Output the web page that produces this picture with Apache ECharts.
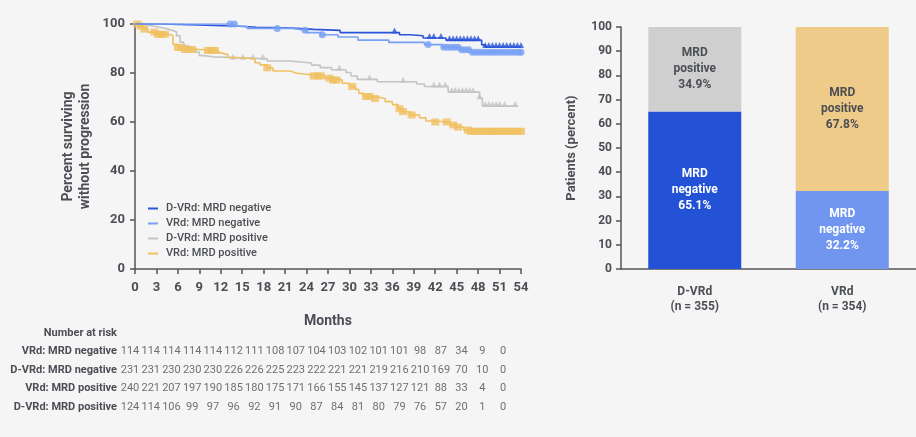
<!DOCTYPE html>
<html>
<head>
<meta charset="utf-8">
<script src="https://cdn.jsdelivr.net/npm/echarts@6/dist/echarts.min.js"></script>
<style>
html,body{margin:0;padding:0;background:#f5f5f5;}
#main{width:916px;height:437px;}
</style>
</head>
<body>
<div id="main"></div>
<script>
// KM step points [month, percent surviving]
const dvrdNeg = [[0,100],[3.7,99.6],[9,99.1],[14.5,98.7],[17,98.3],[22,97.8],[25,97.4],[28.7,96.5],[37,95.6],[38.5,95.2],[40.3,94.3],[43.5,93.4],[48.5,91.5],[49,90.6],[54,90.6]];
const vrdNeg = [[0,100],[14,99.1],[15.7,98.2],[22,97.4],[24,96.5],[26,95.6],[28.4,94.7],[31.2,93.4],[35.5,92.5],[40.5,91.6],[43,90.5],[45.5,89.5],[47,88.5],[54,88.5]];
const dvrdPos = [[0,100],[1,99.2],[2.5,98.4],[4,97.6],[5,96.8],[5.8,95.2],[6.3,92.6],[6.8,91],[7.6,89.5],[8.5,88.6],[9,87.1],[9.5,86.6],[11,85.8],[18.5,84.9],[21.7,84.1],[24.7,83.2],[25.9,82.2],[27.5,81.3],[29.5,80.2],[30.2,78.8],[31.1,77.4],[33.9,76.4],[39.4,75.5],[40.5,74.5],[43.8,72.2],[48.2,69.7],[48.6,66.5],[53.5,66.5]];
const vrdPos = [[0,100],[0.5,99.2],[1.2,97.9],[1.8,96.7],[3,95.8],[4.5,95.4],[5.3,91.7],[6,90.4],[7,89.6],[9,89.2],[11.5,88.3],[12,87.5],[13,86.3],[14,85.8],[16.8,84.2],[17.5,83.3],[18.5,82.1],[19.3,80.8],[21.7,80],[22.5,79.6],[23.5,78.8],[26.5,77.9],[27.5,77.1],[29,75.8],[30,74.5],[30.8,73.3],[31.3,71.7],[32,70.4],[33.5,69.6],[35,68.3],[36,67.1],[36.8,65.4],[37.5,64.2],[38.5,62.9],[39.8,61.7],[40.7,60.4],[41.5,60],[44,58.8],[45,57.9],[46,56.7],[47,56.2],[54,56.2]];

// censor times (months)
const dvrdNegCens = [36.3,41.2,41.8,42.8,44,44.5,45,45.5,46,46.5,47,47.5,48,49,49.5,50,50.5,51,51.5,52,52.5,53,53.5,54];
const vrdNegCens = [13.3,13.9,19.9,23.8,26.2,41,43.2,43.7,44.2,44.7,45.2,45.7,46.2,46.7,47.2,47.7,48.2,48.7,49.2,49.7,50.2,50.7,51.2,51.7,52.2,52.7,53.2,53.7,54];
const dvrdPosCens = [13.7,15.1,16.5,17.9,28.6,32.8,37.5,41.8,42.6,43.4,44.3,44.8,45.3,45.8,46.3,46.8,47.3,48.2,49,49.5,50,50.5,51,51.7,53.2];
const vrdPosCens = [0.3,0.8,1.3,2.7,3.2,3.7,4.2,6,6.5,7,7.5,8,10.2,10.7,11.2,18.5,25,25.5,26,27.2,27.7,28.2,30.4,32.3,32.8,33.6,37,37.5,38.7,42,43.6,44.5,45.2,46.6,47,47.5,48,48.5,49,49.5,50,50.5,51,51.5,52,52.5,53,53.5,54];

// number at risk, every 3 months
const riskRows = ['Number at risk','VRd: MRD negative','D-VRd: MRD negative','VRd: MRD positive','D-VRd: MRD positive'];
const riskVrdNeg = [114,114,114,114,114,112,111,108,107,104,103,102,101,101,98,87,34,9,0];
const riskDvrdNeg = [231,231,230,230,230,226,226,225,223,222,221,221,219,216,210,169,70,10,0];
const riskVrdPos = [240,221,207,197,190,185,180,175,171,166,155,145,137,127,121,88,33,4,0];
const riskDvrdPos = [124,114,106,99,97,96,92,91,90,87,84,81,80,79,76,57,20,1,0];

// MRD rate bars
const barCats = ['D-VRd\n(n = 355)','VRd\n(n = 354)'];
const mrdNegPct = [65.1, 32.2];
const mrdPosPct = [34.9, 67.8];

const txt = '#4b4e54';
const font = 'Roboto';

function stepAt(curve, t) {
    let y = curve[0][1];
    for (const p of curve) { if (p[0] <= t) y = p[1]; }
    return y;
}

function kmLine(name, data, color, z) {
    return {name: name, type: 'line', step: 'end', data: data, showSymbol: false,
        lineStyle: {color: color, width: 1.6}, itemStyle: {color: color}, z: z, silent: true};
}
function censors(curve, times, color, symbol, size, off, z) {
    return {type: 'scatter', data: times.map(t => [t, stepAt(curve, t)]), symbol: symbol,
        symbolSize: size, symbolOffset: off, itemStyle: {color: color}, z: z, silent: true};
}
function riskSeries(row, vals) {
    return {type: 'scatter', xAxisIndex: 2, yAxisIndex: 2, symbolSize: 0,
        itemStyle: {color: 'rgba(0,0,0,0)'}, silent: true,
        data: vals.map((v, i) => [i, row, v]),
        label: {show: true, position: 'inside', formatter: p => p.value[2],
            color: txt, fontSize: 11, fontFamily: font}};
}

const cDark = '#2a55d8', cLight = '#78a0f5', cGray = '#c4c4c4', cYellow = '#f0c062';

var chart = echarts.init(document.getElementById('main'));
chart.setOption({
    backgroundColor: '#f5f5f5',
    animation: false,
    textStyle: {fontFamily: font},
    legend: {
        data: ['D-VRd: MRD negative','VRd: MRD negative','D-VRd: MRD positive','VRd: MRD positive'],
        orient: 'vertical', left: 143, top: 198, itemGap: 4,
        icon: 'rect', itemWidth: 10, itemHeight: 2,
        textStyle: {color: txt, fontSize: 11, fontWeight: 500, padding: [0, 0, 0, 3]}
    },
    grid: [
        {left: 135, top: 24, width: 386, height: 245},
        {left: 621, top: 27, width: 297, height: 242},
        {left: 130, top: 324, width: 373, height: 92}
    ],
    xAxis: [
        {type: 'value', gridIndex: 0, min: 0, max: 54, interval: 3,
            name: 'Months', nameLocation: 'middle', nameGap: 45,
            nameTextStyle: {color: txt, fontSize: 14, fontWeight: 'bold'},
            axisLine: {lineStyle: {color: '#555', width: 1.5}},
            axisTick: {show: true, length: 5, lineStyle: {color: '#555', width: 1.5}},
            axisLabel: {color: txt, fontSize: 13, fontWeight: 'bold', margin: 12},
            splitLine: {show: false}},
        {type: 'category', gridIndex: 1, data: barCats,
            axisLine: {lineStyle: {color: '#555', width: 1.5}},
            axisTick: {show: false},
            axisLabel: {color: txt, fontSize: 12, fontWeight: 'bold', lineHeight: 15, margin: 15}},
        {type: 'value', gridIndex: 2, min: 0, max: 18, show: false}
    ],
    yAxis: [
        {type: 'value', gridIndex: 0, min: 0, max: 100, interval: 20,
            name: 'Percent surviving\nwithout progression', nameLocation: 'middle', nameGap: 41,
            nameTextStyle: {color: txt, fontSize: 14, fontWeight: 'bold', lineHeight: 17},
            axisLine: {show: true, lineStyle: {color: '#555', width: 1.5}},
            axisTick: {show: true, length: 5, lineStyle: {color: '#555', width: 1.5}},
            axisLabel: {color: txt, fontSize: 13, fontWeight: 'bold', margin: 10},
            splitLine: {show: false}},
        {type: 'value', gridIndex: 1, min: 0, max: 100, interval: 10,
            name: 'Patients (percent)', nameLocation: 'middle', nameGap: 43,
            nameTextStyle: {color: txt, fontSize: 13, fontWeight: 'bold'},
            axisLine: {show: true, lineStyle: {color: '#555', width: 1.5}},
            axisTick: {show: true, length: 5, lineStyle: {color: '#555', width: 1.5}},
            axisLabel: {color: txt, fontSize: 12, fontWeight: 'bold', margin: 9},
            splitLine: {show: false}},
        {type: 'category', gridIndex: 2, data: riskRows, inverse: true,
            axisLine: {show: false}, axisTick: {show: false},
            axisLabel: {color: txt, fontSize: 11, fontWeight: 'bold', margin: 13}}
    ],
    series: [
        kmLine('D-VRd: MRD positive', dvrdPos, cGray, 2),
        kmLine('VRd: MRD positive', vrdPos, cYellow, 3),
        kmLine('D-VRd: MRD negative', dvrdNeg, cDark, 4),
        kmLine('VRd: MRD negative', vrdNeg, cLight, 5),
        censors(dvrdPos, dvrdPosCens, cGray, 'triangle', 6, [0, -2], 2),
        censors(vrdPos, vrdPosCens, cYellow, 'rect', [8, 7], [0, 0], 3),
        censors(dvrdNeg, dvrdNegCens, cDark, 'triangle', 6, [0, -2], 4),
        censors(vrdNeg, vrdNegCens, cLight, 'circle', 7, [0, 0], 5),
        {name: 'MRD negative', type: 'bar', xAxisIndex: 1, yAxisIndex: 1, stack: 'mrd', barWidth: 93,
            data: [{value: mrdNegPct[0], itemStyle: {color: '#2352d6'}}, {value: mrdNegPct[1], itemStyle: {color: '#7096ef'}}],
            label: {show: true, position: 'inside', color: '#fff', fontSize: 12, fontWeight: 'bold', lineHeight: 16,
                formatter: p => 'MRD\nnegative\n' + p.value + '%'}},
        {name: 'MRD positive', type: 'bar', xAxisIndex: 1, yAxisIndex: 1, stack: 'mrd', barWidth: 93,
            data: [{value: mrdPosPct[0], itemStyle: {color: '#cfcfcf'}}, {value: mrdPosPct[1], itemStyle: {color: '#eecb88'}}],
            label: {show: true, position: 'inside', color: txt, fontSize: 12, fontWeight: 'bold', lineHeight: 16,
                formatter: p => 'MRD\npositive\n' + p.value + '%'}},
        riskSeries('VRd: MRD negative', riskVrdNeg),
        riskSeries('D-VRd: MRD negative', riskDvrdNeg),
        riskSeries('VRd: MRD positive', riskVrdPos),
        riskSeries('D-VRd: MRD positive', riskDvrdPos)
    ]
});
</script>
</body>
</html>
